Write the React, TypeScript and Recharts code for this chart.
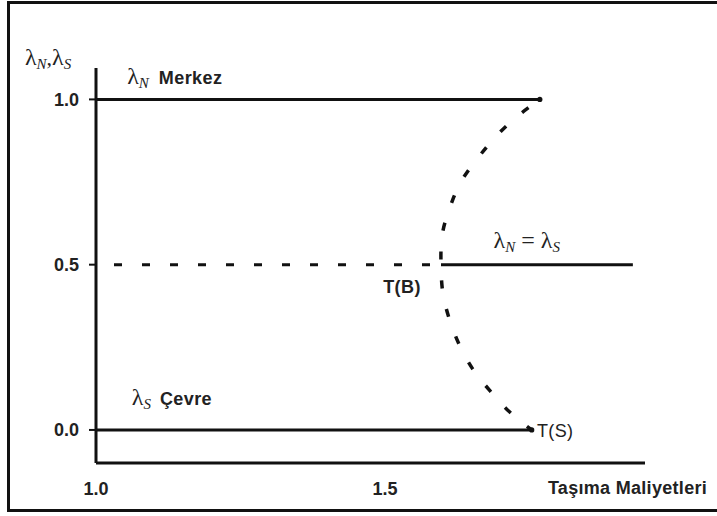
import React from "react";
import { LineChart, Line, XAxis, YAxis, ReferenceDot } from "recharts";

// value lines
const merkezLine = [
  { x: 1.0, y: 1.0 },
  { x: 1.768, y: 1.0 },
];
const cevreLine = [
  { x: 1.0, y: 0.0 },
  { x: 1.754, y: 0.0 },
];
const dashedMid = [
  { x: 1.0, y: 0.5 },
  { x: 1.597, y: 0.5 },
];
const solidMid = [
  { x: 1.597, y: 0.5 },
  { x: 1.929, y: 0.5 },
];
// bifurcation curve, top end -> T(B) -> T(S)
const bifurcation = [
  { x: 1.768, y: 1.0 },
  { x: 1.725, y: 0.943 },
  { x: 1.689, y: 0.882 },
  { x: 1.659, y: 0.819 },
  { x: 1.631, y: 0.749 },
  { x: 1.612, y: 0.671 },
  { x: 1.599, y: 0.589 },
  { x: 1.597, y: 0.5 },
  { x: 1.6, y: 0.417 },
  { x: 1.611, y: 0.338 },
  { x: 1.628, y: 0.26 },
  { x: 1.652, y: 0.184 },
  { x: 1.682, y: 0.118 },
  { x: 1.716, y: 0.054 },
  { x: 1.754, y: 0.0 },
];

const xTicks = [1.0, 1.5];
const yTicks = [0.0, 0.5, 1.0];

type Note = { x: number; y: number; kind: string };
const notes: Note[] = [
  { x: 0.877, y: 1.103, kind: "axisLambda" },
  { x: 1.054, y: 1.048, kind: "merkez" },
  { x: 1.688, y: 0.55, kind: "equal" },
  { x: 1.497, y: 0.414, kind: "TB" },
  { x: 1.062, y: 0.0755, kind: "cevre" },
  { x: 1.763, y: -0.021, kind: "TS" },
  { x: 1.782, y: -0.193, kind: "xTitle" },
];

const INK = "#111";
const TEXT = "#222";
const SANS = "'Liberation Sans', Arial, sans-serif";
const SERIF = "'Liberation Serif', 'Times New Roman', serif";

function Lam({ sub }: { sub: string }) {
  return (
    <>
      <tspan fontFamily={SERIF} fontSize={24}>
        λ
      </tspan>
      <tspan fontFamily={SERIF} fontSize={15} fontStyle="italic" dy={4}>
        {sub}
      </tspan>
      <tspan dy={-4}> </tspan>
    </>
  );
}

function renderNote(kind: string) {
  return (p: any) => {
    const { cx, cy } = p;
    const bold = { fontFamily: SANS, fontWeight: 700, fontSize: 18, letterSpacing: 0.4 };
    switch (kind) {
      case "axisLambda":
        return (
          <text x={cx} y={cy} fill={TEXT}>
            <tspan fontFamily={SERIF} fontSize={24}>λ</tspan>
            <tspan fontFamily={SERIF} fontSize={15} fontStyle="italic" dy={4}>N</tspan>
            <tspan fontFamily={SERIF} fontSize={22} dy={-4}>,</tspan>
            <tspan fontFamily={SERIF} fontSize={24}>λ</tspan>
            <tspan fontFamily={SERIF} fontSize={15} fontStyle="italic" dy={4}>S</tspan>
          </text>
        );
      case "merkez":
        return (
          <text x={cx} y={cy} fill={TEXT}>
            <Lam sub="N" />
            <tspan {...bold} dx={6}>Merkez</tspan>
          </text>
        );
      case "cevre":
        return (
          <text x={cx} y={cy} fill={TEXT}>
            <Lam sub="S" />
            <tspan {...bold} dx={5}>Çevre</tspan>
          </text>
        );
      case "equal":
        return (
          <text x={cx} y={cy} fill={TEXT}>
            <tspan fontFamily={SERIF} fontSize={24}>λ</tspan>
            <tspan fontFamily={SERIF} fontSize={15} fontStyle="italic" dy={4}>N</tspan>
            <tspan fontFamily={SERIF} fontSize={24} dy={-4}> = λ</tspan>
            <tspan fontFamily={SERIF} fontSize={15} fontStyle="italic" dy={4}>S</tspan>
          </text>
        );
      case "TB":
        return (
          <text x={cx} y={cy} fill={TEXT} {...bold}>
            T(B)
          </text>
        );
      case "TS":
        return (
          <text x={cx} y={cy} fill={TEXT} {...bold} fontWeight={400}>
            T(S)
          </text>
        );
      case "xTitle":
        return (
          <text x={cx} y={cy} fill={TEXT} {...bold} letterSpacing={0.3}>
            Taşıma Maliyetleri
          </text>
        );
      default:
        return <g />;
    }
  };
}

function endDot(len: number) {
  return (p: any) =>
    p.index === len - 1 ? (
      <circle key={p.index} cx={p.cx} cy={p.cy} r={2.6} fill={INK} />
    ) : (
      <g key={p.index} />
    );
}

export default function App() {
  return (
    <div
      style={{
        position: "fixed",
        left: 0,
        top: 0,
        width: 717,
        height: 516,
        overflow: "hidden",
        background: "#fff",
      }}
    >
      <div
        style={{
          position: "absolute",
          left: 7,
          top: 1,
          width: 760,
          height: 505,
          border: "3px solid #111",
        }}
      />
      <div style={{ position: "absolute", left: 0, top: 0 }}>
        <LineChart
          width={717}
          height={516}
          margin={{ top: 68, right: 72, bottom: 30, left: 36 }}
        >
          <XAxis
            dataKey="x"
            type="number"
            domain={[1, 1.95]}
            allowDataOverflow
            ticks={xTicks}
            tickFormatter={(v: number) => v.toFixed(1)}
            tickLine={false}
            tickSize={0}
            tickMargin={19}
            height={23}
            axisLine={{ stroke: INK, strokeWidth: 3 }}
            tick={{ fill: TEXT, fontSize: 18, fontWeight: 700, fontFamily: SANS }}
          />
          <YAxis
            dataKey="y"
            type="number"
            domain={[-0.1, 1.095]}
            allowDataOverflow
            ticks={yTicks}
            tickFormatter={(v: number) => v.toFixed(1)}
            width={60}
            tickSize={7}
            tickMargin={10}
            tickLine={{ stroke: INK, strokeWidth: 2 }}
            axisLine={{ stroke: INK, strokeWidth: 3 }}
            tick={{ fill: TEXT, fontSize: 18, fontWeight: 700, fontFamily: SANS }}
          />
          <Line
            data={merkezLine}
            dataKey="y"
            stroke={INK}
            strokeWidth={3}
            dot={endDot(merkezLine.length)}
            isAnimationActive={false}
          />
          <Line
            data={cevreLine}
            dataKey="y"
            stroke={INK}
            strokeWidth={3}
            dot={endDot(cevreLine.length)}
            isAnimationActive={false}
          />
          <Line
            data={dashedMid}
            dataKey="y"
            stroke={INK}
            strokeWidth={3}
            strokeDasharray="8 20"
            strokeDashoffset={10}
            dot={false}
            isAnimationActive={false}
          />
          <Line
            data={solidMid}
            dataKey="y"
            stroke={INK}
            strokeWidth={3}
            dot={false}
            isAnimationActive={false}
          />
          <Line
            data={bifurcation}
            dataKey="y"
            type="natural"
            stroke={INK}
            strokeWidth={3.5}
            strokeDasharray="8 21"
            strokeDashoffset={-14}
            dot={false}
            isAnimationActive={false}
          />
          {notes.map((n) => (
            <ReferenceDot
              key={n.kind}
              x={n.x}
              y={n.y}
              r={0}
              ifOverflow="visible"
              shape={renderNote(n.kind)}
            />
          ))}
        </LineChart>
      </div>
    </div>
  );
}
